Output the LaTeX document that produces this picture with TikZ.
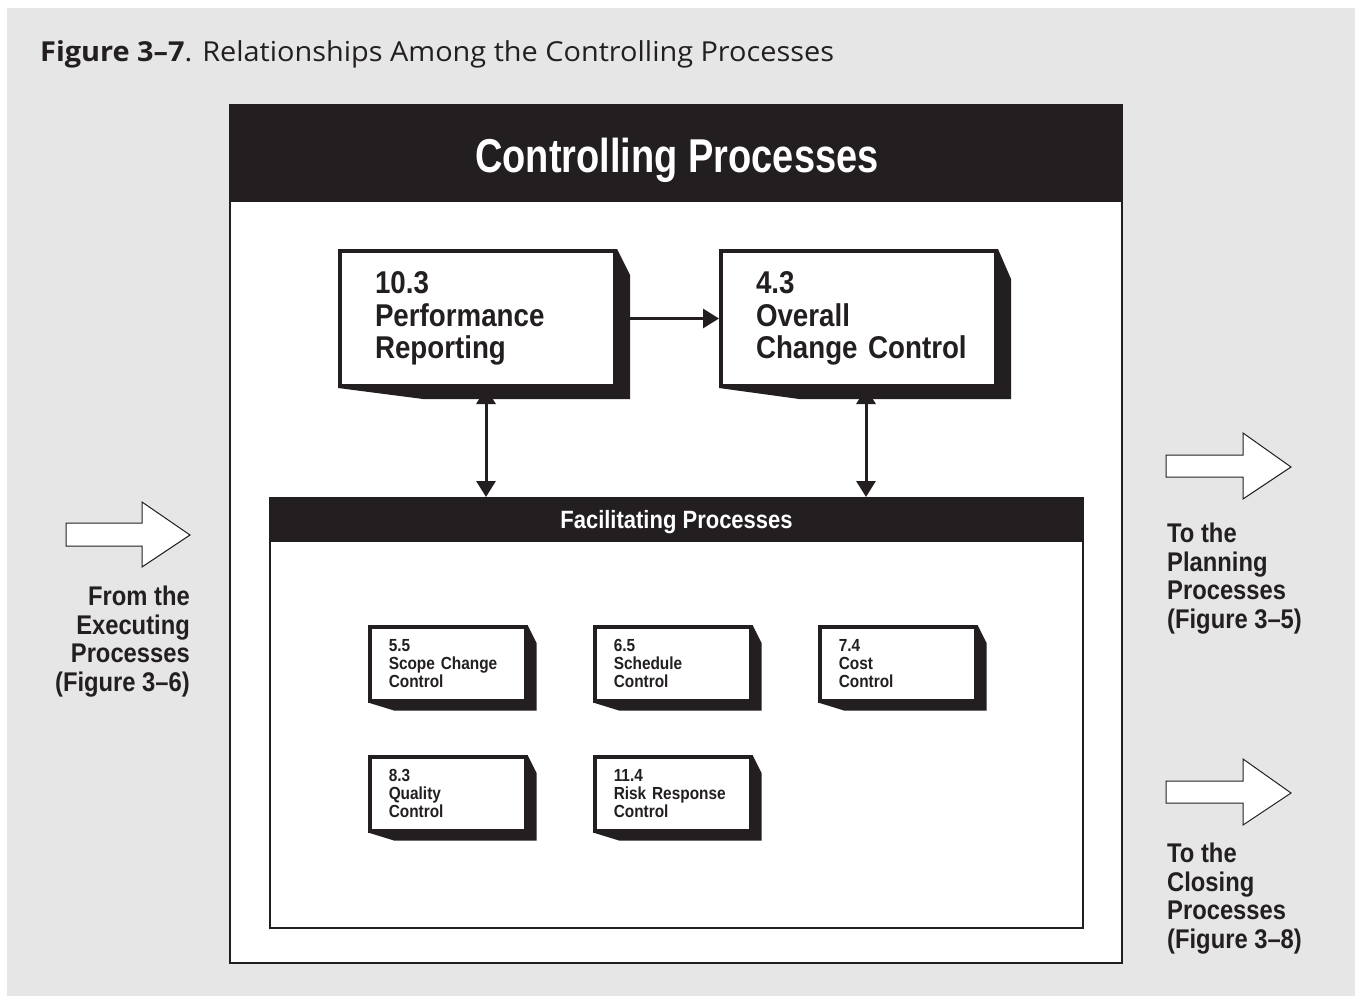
\documentclass[tikz,border=0pt]{standalone}
\usepackage{fontspec}
\setmainfont[FakeStretch=1.05]{Open Sans}
\newfontfamily\titlefont[FakeStretch=0.8]{Liberation Sans}
\newfontfamily\cond[FakeStretch=0.88]{Liberation Sans}
\usetikzlibrary{arrows.meta,calc}
\definecolor{ink}{HTML}{231F20}
\definecolor{bg}{HTML}{E6E6E6}
\newcommand\boxshadow[5]{%
  \fill[ink] (#1.north east) -- ++(#2,#3) -- ($(#1.south east)+(#2,#4)$)
    -- ($(#1.south west)+(#5,#4)$) -- (#1.south west) -- (#1.south east) -- cycle;}
\begin{document}
\begin{tikzpicture}[x=1pt,y=-1pt,
  bigproc/.style={draw=ink, line width=4pt, fill=white, minimum width=275pt,
    minimum height=135pt, text width=205pt, inner xsep=35pt, inner ysep=0pt,
    align=left, anchor=north west, text=ink,
    font=\cond\bfseries\fontsize{31.5}{32.5}\selectfont},
  smallproc/.style={draw=ink, line width=3.5pt, fill=white, minimum width=156pt,
    minimum height=74pt, text width=118pt, inner xsep=19pt, inner ysep=0pt,
    align=left, anchor=north west, text=ink,
    font=\cond\bfseries\fontsize{17.5}{18}\selectfont},
  frame/.style={draw=ink, line width=2pt, fill=white, anchor=north west, inner sep=0pt},
  headbar/.style={fill=ink, anchor=north west, inner sep=0pt},
  conn/.style={draw=ink, line width=3pt, -{Triangle[length=16pt,width=19pt]}},
  dconn/.style={draw=ink, line width=3pt, {Triangle[length=16pt,width=19pt]}-{Triangle[length=16pt,width=19pt]}},
  sidelabel/.style={inner sep=0pt, text=ink, font=\cond\bfseries\fontsize{27}{28.5}\selectfont},
  blockarrow/.style={draw=ink, line width=1pt, fill=white, line join=miter}
]
\useasboundingbox (0,0) rectangle (1355,996);
\fill[white] (0,0) rectangle (1355,996);
\fill[bg] (7,8) rectangle (1355,996);

% caption
\node[anchor=base west, inner sep=0pt, text=ink, font=\fontsize{27.5}{30}\selectfont]
  (caption) at (40,61) {{\bfseries Figure 3–7}. Relationships Among the Controlling Processes};

% main frame
\node[frame, minimum width=892pt, minimum height=858pt] (main) at (229,104) {};
\node[headbar, minimum width=894pt, minimum height=98pt] (mainhead) at (229,104) {};
\node[anchor=base, inner sep=0pt, text=white, font=\titlefont\bfseries\fontsize{47.5}{50}\selectfont]
  (title) at (677,172) {Controlling Processes};

% top process boxes
\node[bigproc] (perf) at (338,249) {10.3\\Performance\\Reporting};
\boxshadow{perf}{13}{26}{11}{85}
\node[bigproc] (occ) at (719,249) {4.3\\Overall\\\mbox{Change Control}};
\boxshadow{occ}{13}{30}{11}{80}

\draw[conn] (perf.east) -- (occ.west);

% facilitating frame
\node[frame, minimum width=813pt, minimum height=430pt] (fac) at (269,497) {};
\node[headbar, minimum width=815pt, minimum height=45pt] (fachead) at (269,497) {};
\node[anchor=base, inner sep=0pt, text=white, font=\cond\bfseries\fontsize{25}{27}\selectfont]
  (factitle) at (676.5,528) {Facilitating Processes};

\coordinate (a1) at (486,0);
\coordinate (a2) at (866,0);
\draw[dconn] (perf.south -| a1) -- (fac.north -| a1);
\draw[dconn] (occ.south -| a2) -- (fac.north -| a2);

% small process boxes
\node[smallproc] (scope) at (368,625) {5.5\\Scope Change\\Control};
\boxshadow{scope}{9}{18}{8}{26}
\node[smallproc] (sched) at (593,625) {6.5\\Schedule\\Control};
\boxshadow{sched}{9}{18}{8}{26}
\node[smallproc] (cost) at (818,625) {7.4\\Cost\\Control};
\boxshadow{cost}{9}{18}{8}{26}
\node[smallproc] (qual) at (368,755) {8.3\\Quality\\Control};
\boxshadow{qual}{9}{18}{8}{26}
\node[smallproc] (risk) at (593,755) {11.4\\Risk Response\\Control};
\boxshadow{risk}{9}{18}{8}{26}

% block arrows
\draw[blockarrow] (66,523) -- (142,523) -- (142,502) -- (190,535) -- (142,567) -- (142,546) -- (66,546) -- cycle;
\draw[blockarrow] (1166,455) -- (1243,455) -- (1243,433) -- (1291,467) -- (1243,499) -- (1243,477) -- (1166,477) -- cycle;
\draw[blockarrow] (1166,781) -- (1243,781) -- (1243,759) -- (1291,793) -- (1243,825) -- (1243,803) -- (1166,803) -- cycle;

% side labels
\node[sidelabel, anchor=north east, align=right] (fromexec) at (190,586)
  {From the\\Executing\\Processes\\(Figure 3–6)};
\node[sidelabel, anchor=north west, align=left] (toplan) at (1167,523)
  {To the\\Planning\\Processes\\(Figure 3–5)};
\node[sidelabel, anchor=north west, align=left] (toclose) at (1167,843)
  {To the\\Closing\\Processes\\(Figure 3–8)};
\end{tikzpicture}
\end{document}
